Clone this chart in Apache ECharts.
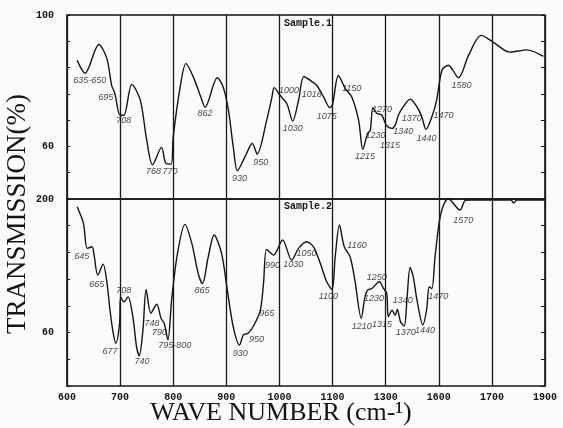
<!DOCTYPE html>
<html><head><meta charset="utf-8">
<script src="https://cdn.jsdelivr.net/npm/echarts@6/dist/echarts.min.js"></script>
<style>html,body{margin:0;padding:0;background:#fbfbfa}#c{width:563px;height:428px}</style>
</head><body><div id="c"></div>
<script>
// x tick labels as printed on the chart (one per vertical grid line)
const xTickLabels = ['600','700','800','900','1000','1100','1300','1600','1700','1900'];
// y tick labels (value -> printed text)
const yTicksTop = {100:'100', 60:'60'};
const yTicksBottom = {100:'200', 60:'60'};

// Sample 1 spectrum
const sample1Wave = [619,634,660,675,684,690,700,707,722,738,750,761,778,786,796,800,813,824,838,854,860,883,894,904,913,921,935,949,958,976,986,990,1001,1014,1025,1036,1046,1058,1070,1083,1095,1100,1111,1124,1136,1149,1157,1166,1171,1176,1183,1193,1201,1212,1218,1224,1232,1246,1259,1268,1276,1287,1296,1306,1318,1337,1356,1380,1403,1434,1466,1497];
const sample1Trans = [86.2,82.3,91.0,86.8,78.6,76.2,69.5,69.5,78.9,74.1,62.0,54.4,59.7,54.9,54.6,62.9,78.0,85.2,81.1,74.1,71.9,80.9,78.1,71.0,59.9,52.6,56.8,60.9,57.7,68.0,75.1,77.9,75.6,73.0,67.7,74.1,81.3,80.1,78.6,75.1,71.8,72.8,81.6,77.6,75.1,68.0,59.1,63.9,64.9,71.8,70.1,69.5,66.5,65.5,66.5,69.5,71.8,74.4,72.0,69.0,65.2,69.0,74.1,83.2,84.7,80.9,87.7,93.8,91.7,88.7,89.4,87.4];

// Sample 2 spectrum
const sample2Wave = [619,631,638,647,651,658,668,675,681,687,692,699,701,707,715,724,731,736,743,749,758,769,777,783,790,797,807,822,835,847,855,866,877,891,901,913,925,932,941,952,964,970,976,989,1006,1023,1036,1051,1064,1077,1089,1099,1105,1113,1122,1133,1142,1154,1161,1166,1174,1188,1196,1202,1205,1212,1218,1222,1228,1235,1240,1246,1252,1259,1270,1277,1282,1287,1293,1301,1309,1318,1340,1350,1360,1380,1425,1436,1441,1447,1460,1500];
const sample2Trans = [97.7,92.7,85.2,85.7,83.2,77.2,80.5,75.2,66.7,59.8,56.8,62.8,70.7,69.2,70.7,64.7,55.7,53.0,60.8,72.9,65.8,68.5,64.3,62.8,57.8,69.7,82.7,92.4,86.7,77.7,74.7,82.7,89.2,83.7,73.7,61.7,56.3,59.3,59.8,62.2,66.7,74.7,84.9,83.2,87.7,81.7,85.2,87.2,85.7,80.7,75.2,72.9,82.7,92.2,85.7,82.7,75.7,64.3,70.7,72.7,73.2,75.2,73.2,71.7,64.7,66.7,65.2,67.0,63.2,62.0,69.7,79.5,76.7,69.7,62.3,66.7,73.7,73.2,82.7,93.2,98.2,100,96.7,99.6,99.7,99.7,99.7,99.7,98.8,99.7,99.7,99.7];

// peak annotations
const annot1Wave = [643,673,707,763,794,860,925,965,1018,1025,1061,1089,1136,1161,1181,1193,1208,1233,1249,1277,1309,1343];
const annot1Trans = [80.1,74.9,68.0,52.3,52.3,70.0,50.3,55.1,77.1,65.5,75.9,69.2,77.6,56.8,63.4,71.2,60.4,64.6,68.5,62.4,69.5,78.6];
const annot1Text = ['635-650','695','708','768','770','862','930','950','1000','1030','1016','1075','1150','1215','1230','1270','1315','1340','1370','1440','1470','1580'];
const annot2Wave = [628,656,681,707,741,760,774,803,854,926,957,976,987,1026,1051,1092,1146,1183,1178,1155,1193,1232,1238,1274,1299,1346];
const annot2Trans = [82.7,74.5,54.3,72.7,51.3,62.8,60.1,56.0,72.7,53.8,57.8,65.8,80.2,80.5,83.7,70.7,86.2,76.5,70.2,61.7,62.3,69.7,59.9,60.5,70.9,93.7];
const annot2Text = ['645','665','677','708','740','748','790','795-800','865','930','950','965','990','1030','1050','1100','1160','1250','1230','1210','1315','1340','1370','1440','1470','1570'];

const zip = (a,b) => a.map((v,i)=>[v,b[i]]);
const zip3 = (a,b,c) => a.map((v,i)=>[v,b[i],c[i]]);

const ink = '#151515';
const monoBold = {fontFamily:'Liberation Mono', fontWeight:'bold', fontSize:10, color:ink};

function xAxis(idx, showLabels){
  return {type:'value', gridIndex:idx, min:600, max:1500, interval:100,
    axisLine:{show:false}, axisTick:{show:false},
    splitLine:{show:true, lineStyle:{color:'#1a1a1a', width:1.3}},
    axisLabel: showLabels ? Object.assign({show:true, margin:6, showMinLabel:true, showMaxLabel:true,
      formatter: v => xTickLabels[Math.round((v-600)/100)] || ''}, monoBold) : {show:false}
  };
}
function yAxisLeft(idx, map){
  return {type:'value', gridIndex:idx, min:44, max:100, interval:8,
    axisLine:{show:false}, splitLine:{show:false},
    axisTick:{show:true, inside:true, length:3, lineStyle:{color:ink, width:1}},
    axisLabel:Object.assign({show:true, margin:13, showMinLabel:true, showMaxLabel:true,
      formatter: v => map[v] || ''}, monoBold)
  };
}
function yAxisRight(idx){
  return {type:'value', gridIndex:idx, position:'right', min:44, max:100, interval:8,
    axisLine:{show:false}, splitLine:{show:false}, axisLabel:{show:false},
    axisTick:{show:true, inside:true, length:4, lineStyle:{color:ink, width:1}}};
}
function annot(xi, yi, data){
  return {type:'scatter', xAxisIndex:xi, yAxisIndex:yi, data:data, symbolSize:1,
    itemStyle:{color:'rgba(0,0,0,0)'}, silent:true, z:5,
    label:{show:true, position:'inside', formatter:p=>p.data[2],
      fontFamily:'Liberation Sans', fontStyle:'italic', fontSize:9, color:ink}};
}
const lineStyle = {color:ink, width:1.4};

const chart = echarts.init(document.getElementById('c'), null, {renderer:'canvas'});
chart.setOption({
  backgroundColor:'#fbfbfa',
  animation:false,
  grid:[
    {left:67, top:15, width:478, height:184, show:true, borderColor:ink, borderWidth:1.6, backgroundColor:'transparent'},
    {left:67, top:199, width:478, height:187, show:true, borderColor:ink, borderWidth:1.6, backgroundColor:'transparent'}
  ],
  xAxis:[xAxis(0,false), xAxis(1,true)],
  yAxis:[yAxisLeft(0,yTicksTop), yAxisLeft(1,yTicksBottom), yAxisRight(0), yAxisRight(1)],
  series:[
    {name:'Sample.1', type:'line', xAxisIndex:0, yAxisIndex:0, data:zip(sample1Wave,sample1Trans),
      showSymbol:false, smooth:0.3, lineStyle:lineStyle},
    {name:'Sample.2', type:'line', xAxisIndex:1, yAxisIndex:1, data:zip(sample2Wave,sample2Trans),
      showSymbol:false, smooth:0.3, lineStyle:lineStyle},
    annot(0,0,zip3(annot1Wave,annot1Trans,annot1Text)),
    annot(1,1,zip3(annot2Wave,annot2Trans,annot2Text))
  ],
  graphic:[
    {type:'text', x:284, y:23, style:{text:'Sample.1', font:'bold 10px "Liberation Mono"', fill:ink, textAlign:'left', textVerticalAlign:'middle'}},
    {type:'text', x:284, y:206, style:{text:'Sample.2', font:'bold 10px "Liberation Mono"', fill:ink, textAlign:'left', textVerticalAlign:'middle'}},
    {type:'text', x:18, y:214, rotation:Math.PI/2, style:{text:'TRANSMISSION(%)', font:'27px "Liberation Serif"', fill:ink, textAlign:'center', textVerticalAlign:'middle'}},
    {type:'text', x:281, y:413, style:{text:'WAVE NUMBER (cm-¹)', font:'26px "Liberation Serif"', fill:ink, textAlign:'center', textVerticalAlign:'middle'}}
  ]
});
</script></body></html>
